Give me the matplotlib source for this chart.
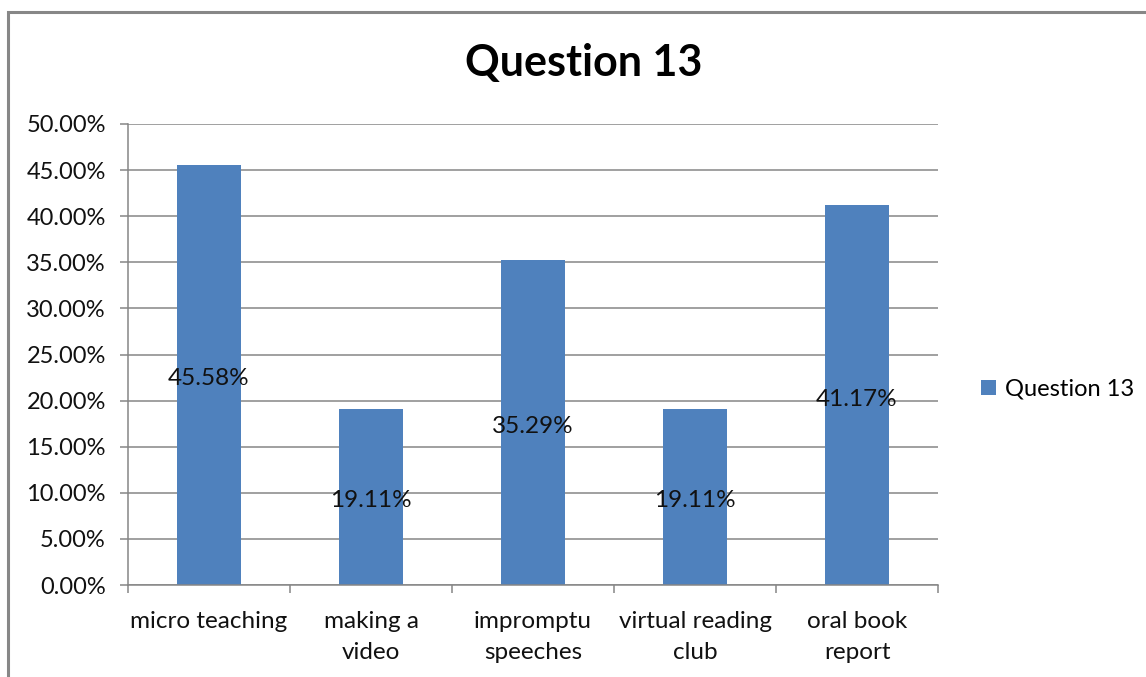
import matplotlib.pyplot as plt
from matplotlib.patches import Rectangle
from matplotlib.ticker import FuncFormatter

# data
categories = ['micro teaching', 'making a\nvideo', 'impromptu\nspeeches',
              'virtual reading\nclub', 'oral book\nreport']
values = [45.58, 19.11, 35.29, 19.11, 41.17]
series_name = 'Question 13'

W, H = 1146, 677
plt.rcParams['font.family'] = ['Lato', 'DejaVu Sans']

fig = plt.figure(figsize=(W / 100, H / 100), dpi=100)

# outer chart border (gray, cut off right/bottom like the screenshot)
fig.patches.append(Rectangle((8 / W, -0.1), 1.2, 1 - 12 / H + 0.1,
                             transform=fig.transFigure, fill=False,
                             edgecolor='#878787', linewidth=2.2))

ax = fig.add_axes([128 / W, 1 - 585 / H, (938 - 128) / W, (585 - 124) / H])
x = list(range(len(categories)))
ax.bar(x, values, width=0.4, color='#4F81BD', label=series_name, zorder=2)
# value labels sit at the middle of each bar, a touch low like Excel
for xi, v in zip(x, values):
    ax.annotate(f'{v:.2f}%', xy=(xi, v / 2), xytext=(0, -4),
                textcoords='offset pixels', ha='center', va='center',
                fontsize=17.5, color='#111111', zorder=3)

ax.set_xlim(-0.5, len(categories) - 0.5)
ax.set_ylim(0, 50)
ax.set_yticks(range(0, 51, 5))
ax.yaxis.set_major_formatter(FuncFormatter(lambda v, p: f'{v:.2f}%'))
ax.grid(axis='y', color='#868686', linewidth=1.1, zorder=0)

# category labels centred, tick marks on the boundaries
ax.set_xticks(x)
ax.set_xticklabels(categories, fontsize=17.5, color='#111111', linespacing=1.55)
ax.tick_params(axis='x', length=0, pad=19)
ax.set_xticks([i - 0.5 for i in range(len(categories) + 1)], minor=True)
ax.tick_params(axis='x', which='minor', length=6, color='#868686', width=1.1)
ax.tick_params(axis='y', length=6, color='#868686', width=1.1, labelsize=17,
               labelcolor='#111111', pad=10)

for s in ['top', 'right']:
    ax.spines[s].set_visible(False)
for s in ['left', 'bottom']:
    ax.spines[s].set_color('#868686')
    ax.spines[s].set_linewidth(1.1)

fig.text(584 / W, 1 - 63 / H, 'Question 13', ha='center', va='center',
         fontsize=31, fontweight='bold', color='#000000')

fig.legend(loc='center left', bbox_to_anchor=(972 / W, 1 - 389 / H),
           frameon=False, fontsize=17, handlelength=0.6, handleheight=0.6,
           handletextpad=0.4, borderaxespad=0)

fig.savefig('out.png', dpi=100)
